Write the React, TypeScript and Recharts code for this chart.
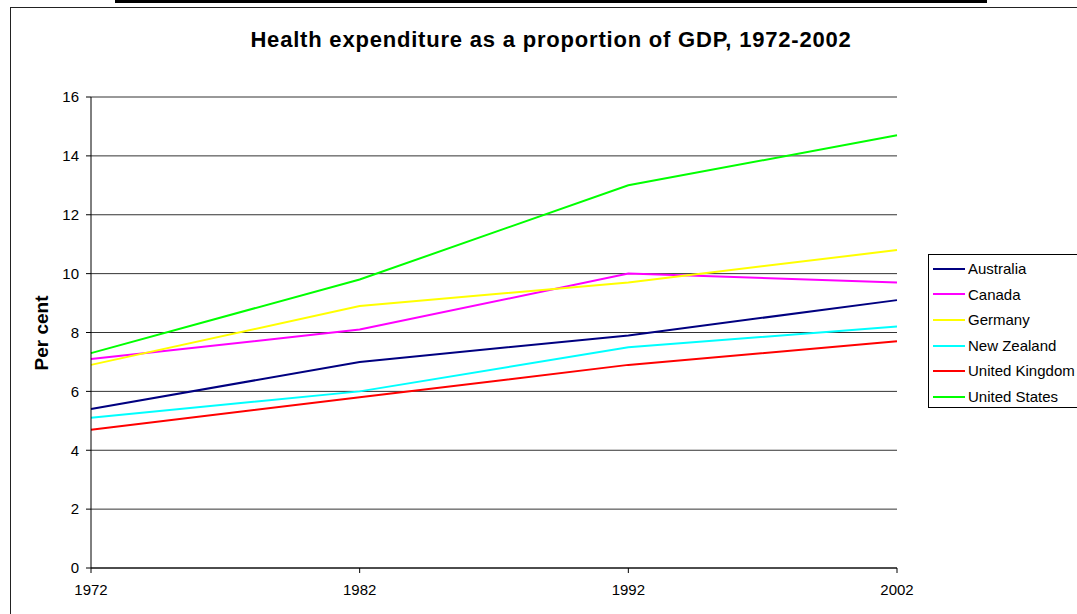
import React from 'react';
import { LineChart, Line, XAxis, YAxis, CartesianGrid, Legend } from 'recharts';

const years = ['1972', '1982', '1992', '2002'];
const yTicks = [0, 2, 4, 6, 8, 10, 12, 14, 16];

const australia = [5.4, 7.0, 7.9, 9.1];
const canada = [7.1, 8.1, 10.0, 9.7];
const germany = [6.9, 8.9, 9.7, 10.8];
const newZealand = [5.1, 6.0, 7.5, 8.2];
const unitedKingdom = [4.7, 5.8, 6.9, 7.7];
const unitedStates = [7.3, 9.8, 13.0, 14.7];

const seriesNames = ['Australia', 'Canada', 'Germany', 'New Zealand', 'United Kingdom', 'United States'];
const seriesKeys = ['australia', 'canada', 'germany', 'newZealand', 'unitedKingdom', 'unitedStates'];
const seriesColors = ['#000080', '#FF00FF', '#FFFF00', '#00FFFF', '#FF0000', '#00FF00'];

const data = years.map((year, i) => ({
  year,
  australia: australia[i],
  canada: canada[i],
  germany: germany[i],
  newZealand: newZealand[i],
  unitedKingdom: unitedKingdom[i],
  unitedStates: unitedStates[i],
}));

const FONT = "Arial, 'Liberation Sans', sans-serif";

const LegendBox = (props: any) => {
  const payload = props.payload || [];
  return (
    <div
      style={{
        width: 170,
        height: 154,
        border: '1px solid #000',
        boxSizing: 'border-box',
        background: '#fff',
        fontFamily: FONT,
        fontSize: 15,
        color: '#000',
        paddingTop: 1,
      }}
    >
      {payload.map((p: any) => (
        <div key={p.value} style={{ position: 'relative', height: 25.6, whiteSpace: 'nowrap' }}>
          <div
            style={{
              position: 'absolute',
              left: 4,
              top: 11.8,
              width: 32,
              height: 2,
              background: p.color,
            }}
          />
          <div style={{ position: 'absolute', left: 39, top: 4, lineHeight: '17px' }}>{p.value}</div>
        </div>
      ))}
    </div>
  );
};

export default function App() {
  return (
    <div
      style={{
        position: 'fixed',
        left: 0,
        top: 0,
        width: 1077,
        height: 614,
        overflow: 'hidden',
        background: '#fff',
        fontFamily: FONT,
      }}
    >
      <div style={{ position: 'absolute', left: 115, top: 0, width: 872, height: 3, background: '#000' }} />
      <div
        style={{
          position: 'absolute',
          left: 10,
          top: 7,
          width: 1200,
          height: 700,
          border: '1px solid #222',
          boxSizing: 'border-box',
        }}
      />
      <div
        style={{
          position: 'absolute',
          left: 0,
          top: 29,
          width: 1102,
          textAlign: 'center',
          fontSize: 22,
          lineHeight: '22px',
          letterSpacing: 0.8,
          fontWeight: 'bold',
          color: '#000',
          whiteSpace: 'nowrap',
        }}
      >
        Health expenditure as a proportion of GDP, 1972-2002
      </div>
      <div
        style={{
          position: 'absolute',
          left: 40.5,
          top: 332.5,
          transform: 'translate(-50%, -50%) rotate(-90deg)',
          fontSize: 19,
          lineHeight: '19px',
          fontWeight: 'bold',
          color: '#000',
          whiteSpace: 'nowrap',
        }}
      >
        Per cent
      </div>
      <div style={{ position: 'absolute', left: 0, top: 0 }}>
        <LineChart
          width={1077}
          height={614}
          data={data}
          margin={{ top: 97, right: 180, left: 31, bottom: 16 }}
        >
          <CartesianGrid vertical={false} stroke="#333" strokeWidth={1} />
          <XAxis
            dataKey="year"
            height={30}
            interval={0}
            padding={{ left: 0, right: 0 }}
            tickSize={5}
            tickMargin={11}
            axisLine={{ stroke: '#000' }}
            tickLine={{ stroke: '#000' }}
            tick={{ fill: '#000', fontSize: 15, fontFamily: FONT }}
          />
          <YAxis
            width={60}
            domain={[0, 16]}
            ticks={yTicks}
            interval={0}
            tickSize={5}
            tickMargin={7}
            axisLine={{ stroke: '#000' }}
            tickLine={{ stroke: '#000' }}
            tick={{ fill: '#000', fontSize: 15, fontFamily: FONT }}
          />
          {seriesKeys.map((k, i) => (
            <Line
              key={k}
              type="linear"
              dataKey={k}
              name={seriesNames[i]}
              stroke={seriesColors[i]}
              strokeWidth={2}
              dot={false}
              activeDot={false}
              isAnimationActive={false}
            />
          ))}
          <Legend
            layout="vertical"
            align="center"
            verticalAlign="middle"
            wrapperStyle={{ left: 928, top: 254, width: 170, height: 154 }}
            content={LegendBox}
          />
        </LineChart>
      </div>
    </div>
  );
}
